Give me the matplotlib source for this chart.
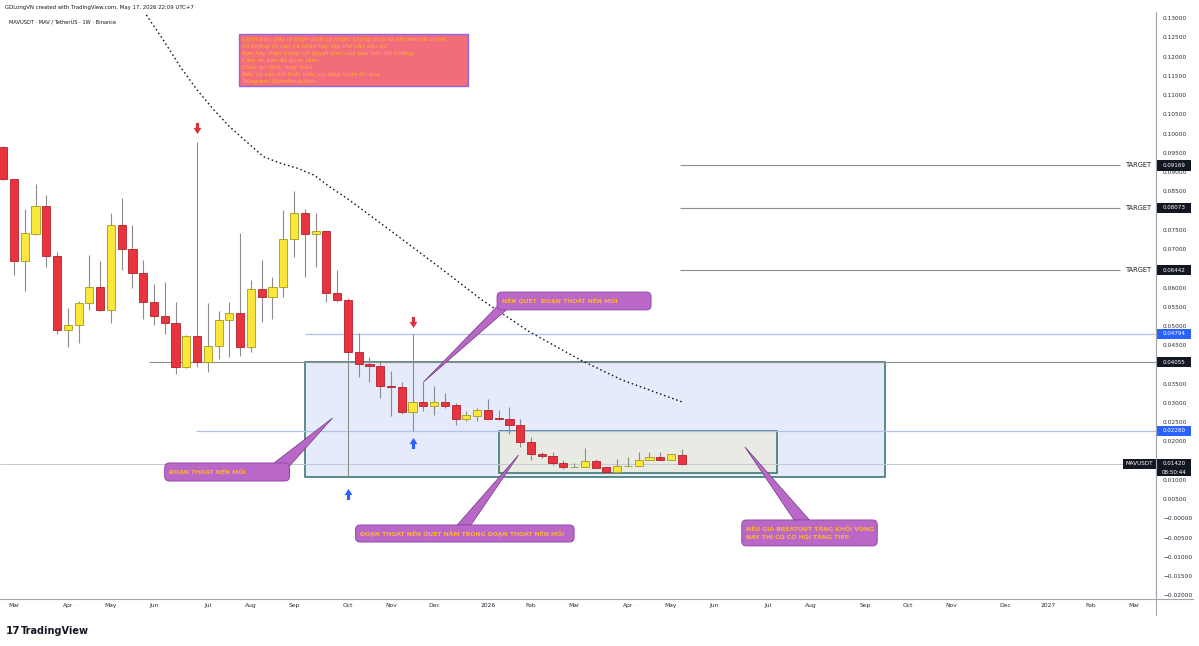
import numpy as np
import pandas as pd
import matplotlib
matplotlib.use("Agg")
import matplotlib.pyplot as plt
import matplotlib.dates as mdates
import matplotlib.transforms as mtransforms
from matplotlib.patches import FancyBboxPatch, Rectangle, Polygon
from matplotlib.lines import Line2D
from matplotlib.path import Path

plt.rcParams['font.family'] = ['DejaVu Sans']

# nen tuan MAVUSDT (Binance, 1W), nen dau tien = tuan 2025-02-24
first_week = "2025-02-24"
opens = [0.0965, 0.0882, 0.0670, 0.0738, 0.0811, 0.0682, 0.0490, 0.0502, 0.0559, 0.0602,
         0.0542, 0.0762, 0.0699, 0.0637, 0.0562, 0.0526, 0.0509, 0.0394, 0.0474, 0.0406,
         0.0448, 0.0515, 0.0535, 0.0446, 0.0596, 0.0576, 0.0602, 0.0725, 0.0793, 0.0739,
         0.0746, 0.0585, 0.0568, 0.0432, 0.0401, 0.0397, 0.0345, 0.0342, 0.0277, 0.0303,
         0.0292, 0.0303, 0.0294, 0.0258, 0.0267, 0.0282, 0.0260, 0.0259, 0.0244, 0.0198,
         0.0167, 0.0162, 0.0145, 0.0133, 0.0133, 0.0149, 0.0133, 0.0122, 0.0136, 0.0136,
         0.0152, 0.0160, 0.0152, 0.0165]
highs = [0.0968, 0.0882, 0.0803, 0.0868, 0.0839, 0.0691, 0.0546, 0.0566, 0.0684, 0.0670,
         0.0793, 0.0832, 0.0762, 0.0671, 0.0609, 0.0615, 0.0563, 0.0476, 0.0979, 0.0561,
         0.0539, 0.0563, 0.0742, 0.0620, 0.0671, 0.0628, 0.0801, 0.0851, 0.0805, 0.0793,
         0.0748, 0.0646, 0.0572, 0.0481, 0.0419, 0.0407, 0.0384, 0.0355, 0.0479, 0.0354,
         0.0345, 0.0325, 0.0301, 0.0280, 0.0286, 0.0310, 0.0282, 0.0289, 0.0259, 0.0211,
         0.0174, 0.0174, 0.0152, 0.0143, 0.0182, 0.0154, 0.0136, 0.0154, 0.0160, 0.0174,
         0.0174, 0.0174, 0.0167, 0.0180]
lows = [0.0880, 0.0632, 0.0592, 0.0736, 0.0654, 0.0479, 0.0446, 0.0455, 0.0542, 0.0540,
        0.0509, 0.0646, 0.0600, 0.0517, 0.0503, 0.0479, 0.0375, 0.0392, 0.0394, 0.0381,
        0.0413, 0.0420, 0.0422, 0.0433, 0.0510, 0.0517, 0.0576, 0.0678, 0.0628, 0.0654,
        0.0563, 0.0563, 0.0109, 0.0367, 0.0355, 0.0312, 0.0267, 0.0272, 0.0228, 0.0280,
        0.0269, 0.0286, 0.0243, 0.0254, 0.0254, 0.0258, 0.0256, 0.0220, 0.0187, 0.0152,
        0.0156, 0.0139, 0.0128, 0.0133, 0.0133, 0.0130, 0.0119, 0.0122, 0.0136, 0.0136,
        0.0152, 0.0152, 0.0152, 0.0139]
closes = [0.0882, 0.0670, 0.0741, 0.0811, 0.0682, 0.0490, 0.0502, 0.0559, 0.0602, 0.0542,
          0.0762, 0.0699, 0.0637, 0.0562, 0.0526, 0.0509, 0.0394, 0.0474, 0.0406, 0.0448,
          0.0515, 0.0535, 0.0446, 0.0596, 0.0576, 0.0602, 0.0725, 0.0793, 0.0739, 0.0746,
          0.0585, 0.0568, 0.0432, 0.0401, 0.0397, 0.0345, 0.0342, 0.0277, 0.0303, 0.0292,
          0.0303, 0.0292, 0.0258, 0.0269, 0.0282, 0.0259, 0.0259, 0.0244, 0.0198, 0.0167,
          0.0162, 0.0145, 0.0133, 0.0133, 0.0149, 0.0130, 0.0122, 0.0136, 0.0136, 0.0152,
          0.0160, 0.0152, 0.0167, 0.0142]

# cac muc gia ve tren chart
target_levels = [0.09169, 0.08073, 0.06442]
blue_levels = [0.04794, 0.02280]
support_level = 0.04055
last_price = 0.01420
countdown = "08:50:44"

# duong cong cham (trendline)
curve_dates = ["2025-05-28", "2025-06-08", "2025-06-19", "2025-06-30", "2025-07-11",
               "2025-07-21", "2025-08-01", "2025-08-12", "2025-08-23", "2025-09-03",
               "2025-09-14", "2025-09-24", "2025-10-07", "2025-11-09", "2025-12-05",
               "2026-01-01", "2026-02-01", "2026-03-06", "2026-04-02", "2026-05-11"]
curve_prices = [0.1308, 0.1243, 0.1174, 0.1113, 0.1061, 0.1018, 0.0979, 0.0940, 0.0923, 0.0910,
                0.0892, 0.0862, 0.0827, 0.0729, 0.0651, 0.0568, 0.0485, 0.0412, 0.0360, 0.0303]

warning_lines = [
    "Cảnh báo: đây là nhận định cá nhân, không phải lời khuyên tài chính,",
    "tôi không lôi kéo cá nhân hay tập thể nào đầu tư.",
    "Bạn hãy thận trọng với quyết định của bạn trên thị trường.",
    "Cảm ơn bạn đã quan tâm.",
    "Chúc an lành, may mắn.",
    "Nếu có câu hỏi thắc mắc vui lòng nhắn tin qua",
    "Telegram @tradendukich",
]


def d(s):
    return mdates.date2num(pd.Timestamp(s))


o = np.array(opens)
h = np.array(highs)
l = np.array(lows)
c = np.array(closes)
weeks = pd.date_range(first_week, periods=len(o), freq="7D")
wk = mdates.date2num(weeks)

RED, RED_E = '#e8343f', '#b3202c'
YEL, YEL_E = '#fbe63a', '#a8981c'
PURPLE, PURPLE_E = '#ba68c8', '#9a4fb0'
ORANGE = '#ffb22e'

fig = plt.figure(figsize=(11.99, 6.46), dpi=100)
ax = fig.add_axes([0, 47 / 646, 1156 / 1199, 587 / 646])
base = d("2025-03-03")
ax.set_xlim(base - 9.1, base + 742.2)
ax.set_ylim(-0.02091, 0.13156)

# vung hop
ax.add_patch(Rectangle((d("2025-09-08"), 0.0109), d("2026-09-20") - d("2025-09-08"),
                       support_level - 0.0109, fc='#e5ebfb', ec='#2f6f6a', lw=1.1, zorder=1))
ax.add_patch(Rectangle((d("2026-01-12"), 0.0119), d("2026-07-12") - d("2026-01-12"),
                       blue_levels[1] - 0.0119, fc='#e7ebe4', ec='#2f6f6a', lw=1.1, zorder=1.2))

# duong ngang
x_right = ax.get_xlim()[1]
for lv in target_levels:
    ax.hlines(lv, d("2026-05-10"), d("2027-02-20"), color='#8f8f8f', lw=0.8, zorder=2)
    ax.text(0.9965, lv, "TARGET", transform=mtransforms.blended_transform_factory(ax.transAxes, ax.transData),
            ha='right', va='center', fontsize=4.8, color='#222222', zorder=3)
ax.hlines(support_level, d("2025-05-30"), x_right, color='#8e8e8e', lw=0.8, zorder=2)
ax.hlines(blue_levels[0], d("2025-09-08"), x_right, color='#b3c1ea', lw=0.9, zorder=2)
ax.hlines(blue_levels[1], d("2025-06-29"), x_right, color='#b3c1ea', lw=0.9, zorder=2)
ax.hlines(last_price, ax.get_xlim()[0], x_right, color='#c6c9d2', lw=0.7, zorder=2)

# nen
up = c >= o
bottom = np.minimum(o, c)
height = np.maximum(np.abs(c - o), 0.00006)
ax.vlines(wk, l, h, color='#8c8c8c', lw=0.8, zorder=3)
ax.bar(wk[up], height[up], bottom=bottom[up], width=5.3, color=YEL, edgecolor=YEL_E, lw=0.6, zorder=4)
ax.bar(wk[~up], height[~up], bottom=bottom[~up], width=5.3, color=RED, edgecolor=RED_E, lw=0.6, zorder=4)

# duong cong cham
ax.plot([d(s) for s in curve_dates], curve_prices, color='#111111', lw=1.0,
        linestyle=(0, (1.1, 2.0)), zorder=5)

# mui ten
verts = [(-0.28, 1.0), (0.28, 1.0), (0.28, 0.1), (0.7, 0.1), (0.0, -1.0),
         (-0.7, 0.1), (-0.28, 0.1), (-0.28, 1.0)]
arrow_down = Path(verts, closed=True)
arrow_up = Path([(x, -y) for x, y in verts], closed=True)


def arrow(i, is_up, gap_px):
    y = l[i] if is_up else h[i]
    dy = (-gap_px if is_up else gap_px) / 100
    tr = ax.transData + mtransforms.ScaledTranslation(0, dy, fig.dpi_scale_trans)
    ax.plot([wk[i]], [y], marker=arrow_up if is_up else arrow_down, ms=8,
            color='#2962ff' if is_up else '#e0303c', mec='none', transform=tr,
            zorder=6, clip_on=False)


arrow(18, False, 14)
arrow(38, False, 12)
arrow(38, True, 12)
arrow(32, True, 17)

# chu thich
aspect = 1.5386 / 3850


def callout(x0, x1, y0, y1, tip, b1, b2, lines, dy_px=7.5):
    ax.add_patch(Polygon([tip, b1, b2], closed=True, fc=PURPLE, ec='#6a3a80', lw=0.5, zorder=7.9))
    ax.add_patch(FancyBboxPatch((x0, y0), x1 - x0, y1 - y0,
                                boxstyle="round,pad=0,rounding_size=3", mutation_aspect=aspect,
                                fc=PURPLE, ec=PURPLE_E, lw=0.8, zorder=8))
    n = len(lines)
    for k, t in enumerate(lines):
        off = ((n - 1) / 2 - k) * dy_px * 0.72
        ax.annotate(t, (x0, (y0 + y1) / 2), xytext=(3.2, off), textcoords='offset points',
                    ha='left', va='center', fontsize=4.4, fontweight='bold', color=ORANGE, zorder=9)


callout(d("2026-01-11"), d("2026-04-21"), 0.0542, 0.0588, (wk[39], h[39]),
        (d("2026-01-11"), 0.0551), (d("2026-01-17"), 0.0542),
        ["NẾN QUÉT  ĐOẠN THOÁT NẾN MỒI"])
callout(d("2025-06-09"), d("2025-08-29"), 0.00974, 0.01442, (d("2025-09-26"), 0.0261),
        (d("2025-08-19"), 0.01442), (d("2025-08-29"), 0.0136),
        ["ĐOẠN THOÁT NẾN MỒI"])
callout(d("2025-10-11"), d("2026-03-02"), -0.0061, -0.0017, (d("2026-01-25"), 0.0165),
        (d("2025-12-16"), -0.0017), (d("2025-12-25"), -0.0017),
        ["ĐOẠN THOÁT NẾN QUÉT NẰM TRONG ĐOẠN THOÁT NẾN MỒI"])
callout(d("2026-06-19"), d("2026-09-15"), -0.0071, -0.0004, (d("2026-06-21"), 0.0186),
        (d("2026-07-23"), -0.0004), (d("2026-08-02"), -0.0004),
        ["NẾU GIÁ BREATOUT TĂNG KHỎI VÙNG", "NÀY THÌ CÓ CƠ HỘI TĂNG TIẾP"], dy_px=8)

# hop canh bao
wx0, wx1, wy0, wy1 = d("2025-07-27"), d("2025-12-23"), 0.11234, 0.12584
ax.add_patch(Rectangle((wx0, wy0), wx1 - wx0, wy1 - wy0, fc='#f26c7c', ec='#8c6be0', lw=1.0, zorder=8))
for k, t in enumerate(warning_lines):
    ax.annotate(t, (wx0, wy1), xytext=(2.2, -(4.8 + 7.1 * k) * 0.72), textcoords='offset points',
                ha='left', va='center', fontsize=4.2, style='italic', color=ORANGE, zorder=9)

# truc: nhan bi nhan gia che thi an di (giong TradingView)
tag_levels = target_levels + [support_level] + blue_levels + [last_price]
yticks = np.arange(-4, 27) * 0.005


def ylab(v):
    if any(abs(v - t) < 0.0012 for t in tag_levels):
        return ""
    return ("\u2212" + f"{abs(v):.5f}") if v <= 1e-12 else f"{v:.5f}"


ax.yaxis.tick_right()
ax.set_yticks(yticks)
ax.set_yticklabels([ylab(v) for v in yticks])
ax.tick_params(axis='y', length=0, pad=5, labelsize=4.2, labelcolor='#2a2e39')

mondays = pd.date_range("2025-03-01", "2027-03-31", freq="W-MON")
month_ticks = mondays[~mondays.to_period("M").duplicated()]
ax.set_xticks(mdates.date2num(month_ticks))
ax.set_xticklabels([str(t.year) if t.month == 1 else t.strftime("%b") for t in month_ticks])
ax.tick_params(axis='x', length=0, pad=3, labelsize=4.3, labelcolor='#2a2e39')

for s in ['top', 'left']:
    ax.spines[s].set_visible(False)
for s in ['right', 'bottom']:
    ax.spines[s].set_color('#a3a6af')
    ax.spines[s].set_linewidth(0.8)
fig.add_artist(Line2D([1156 / 1199] * 2, [1 - 615 / 646, 1 - 13 / 646], color='#a3a6af', lw=0.8))
fig.add_artist(Line2D([1156 / 1199, 1193 / 1199], [47 / 646] * 2, color='#a3a6af', lw=0.8))

# nhan gia tren truc
tt = mtransforms.blended_transform_factory(ax.transAxes, ax.transData)


def price_tag(price, text, fc):
    ax.add_patch(Rectangle((1.0008, price - 0.0013), 0.0295, 0.0026, transform=tt, fc=fc,
                           ec='none', clip_on=False, zorder=10))
    ax.text(1.0008 + 0.0295 / 2, price, text, transform=tt, ha='center', va='center',
            fontsize=4.1, color='white', clip_on=False, zorder=11)


for lv in target_levels:
    price_tag(lv, f"{lv:.5f}", '#131722')
price_tag(support_level, f"{support_level:.5f}", '#131722')
for lv in blue_levels:
    price_tag(lv, f"{lv:.5f}", '#2962ff')

ax.add_patch(Rectangle((0.9712, last_price - 0.0013), 0.0288, 0.0026, transform=tt,
                       fc='#131722', ec='none', clip_on=False, zorder=10))
ax.text(0.9712 + 0.0144, last_price, "MAVUSDT", transform=tt, ha='center', va='center',
        fontsize=4.1, color='white', clip_on=False, zorder=11)
ax.add_patch(Rectangle((1.0008, last_price - 0.00317), 0.0295, 0.00449, transform=tt,
                       fc='#131722', ec='none', clip_on=False, zorder=10))
ax.text(1.0008 + 0.0295 / 2, last_price, f"{last_price:.5f}", transform=tt, ha='center',
        va='center', fontsize=4.1, color='white', clip_on=False, zorder=11)
ax.text(1.0008 + 0.0295 / 2, last_price - 0.0022, countdown, transform=tt, ha='center',
        va='center', fontsize=4.1, color='white', clip_on=False, zorder=11)

# tieu de va logo
fig.text(5 / 1199, 1 - 7 / 646, "GDLongVN created with TradingView.com, May 17, 2026 22:09 UTC+7",
         fontsize=3.9, va='center', color='#131722')
fig.text(9 / 1199, 1 - 21.5 / 646, "MAVUSDT · MAV / TetherUS · 1W · Binance",
         fontsize=3.7, va='center', color='#131722')
fig.text(6 / 1199, 1 - 631 / 646, "17", fontsize=7.5, fontweight='heavy', va='center', color='#131722')
fig.text(21 / 1199, 1 - 631 / 646, "TradingView", fontsize=7, fontweight='semibold',
         va='center', color='#131722')

fig.savefig("out.png", dpi=100)
